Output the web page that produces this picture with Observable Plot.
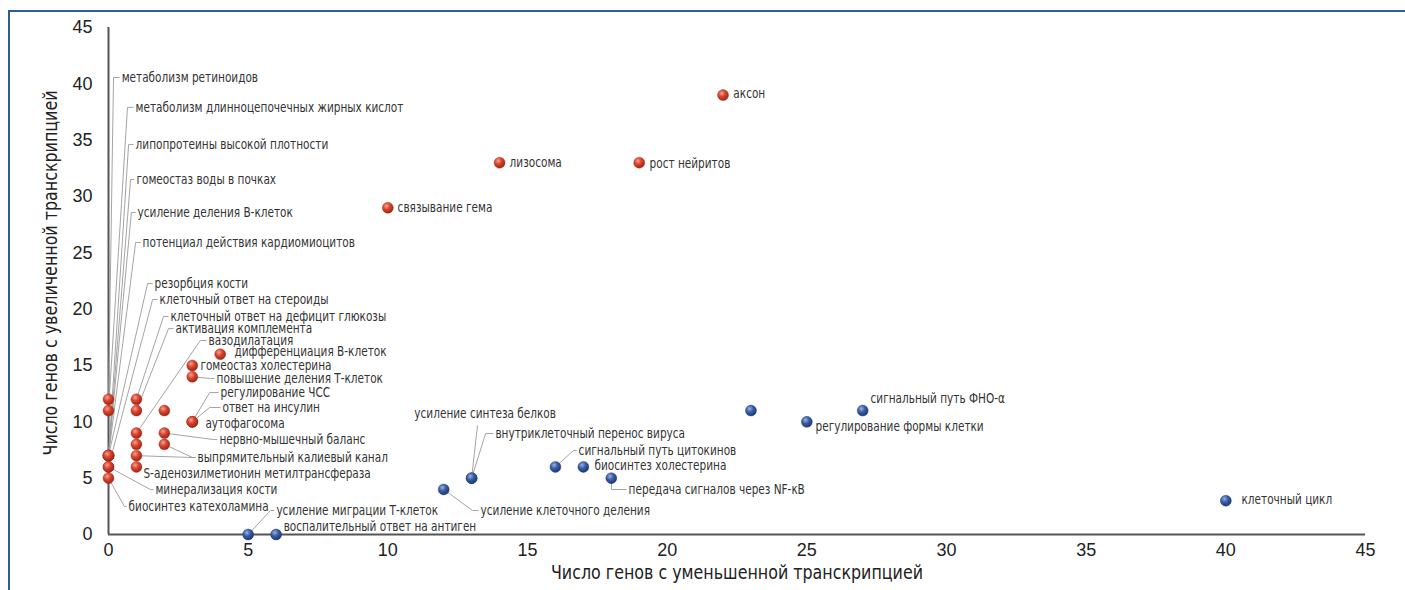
<!DOCTYPE html>
<html><head><meta charset="utf-8">
<script src="https://cdn.jsdelivr.net/npm/d3@7"></script>
<script src="https://cdn.jsdelivr.net/npm/@observablehq/plot@0.6"></script>
<style>
body{margin:0;background:#fff;}
#wrap{position:relative;width:1405px;height:590px;overflow:hidden;}
#frame{position:absolute;left:8px;top:10px;right:-10px;bottom:-10px;border-left:2px solid #2f5a9e;border-top:2px solid #2f5a9e;pointer-events:none;}
</style></head><body><div id="wrap"><div id="chart"></div><div id="frame"></div></div>
<script>
const xTitle = "Число генов с уменьшенной транскрипцией";
const yTitle = "Число генов с увеличенной транскрипцией";
const xTicks = [0,5,10,15,20,25,30,35,40,45];
const yTicks = [0,5,10,15,20,25,30,35,40,45];

// terms: name, down (x), up (y), group
const terms = [
 "метаболизм ретиноидов","метаболизм длинноцепочечных жирных кислот","липопротеины высокой плотности",
 "гомеостаз воды в почках","усиление деления В-клеток","потенциал действия кардиомиоцитов",
 "резорбция кости","клеточный ответ на стероиды","клеточный ответ на дефицит глюкозы",
 "активация комплемента","вазодилатация","дифференциация В-клеток","гомеостаз холестерина",
 "повышение деления Т-клеток","регулирование ЧСС","ответ на инсулин","аутофагосома",
 "нервно-мышечный баланс","выпрямительный калиевый канал","S-аденозилметионин метилтрансфераза",
 "минерализация кости","биосинтез катехоламина","","","",
 "связывание гема","лизосома","рост нейритов","аксон",
 "усиление миграции Т-клеток","воспалительный ответ на антиген","усиление клеточного деления",
 "усиление синтеза белков","внутриклеточный перенос вируса","сигнальный путь цитокинов",
 "биосинтез холестерина","передача сигналов через NF-κB","регулирование формы клетки",
 "сигнальный путь ФНО-α","клеточный цикл",""
];
const down = [0,0,0,0,0,0,0,0,1,1,1,4,3,3,3,3,3,2,2,1,0,0,2,1,1,10,14,19,22,5,6,12,13,13,16,17,18,25,27,40,23];
const up   = [12,11,7,7,7,7,7,6,12,11,9,16,15,14,10,10,10,9,8,6,6,5,11,8,7,29,33,33,39,0,0,4,5,5,6,6,5,10,11,3,11];
const group = ["up","up","up","up","up","up","up","up","up","up","up","up","up","up","up","up","up","up","up","up","up","up","up","up","up","up","up","up","up",
 "down","down","down","down","down","down","down","down","down","down","down","down"];
// label anchor positions (data units)
const labelX = [0.47,0.97,0.97,1.00,1.04,1.22,1.65,1.83,2.22,2.40,3.58,4.51,3.29,3.87,4.01,4.08,3.47,3.97,3.19,1.25,1.68,0.72,null,null,null,
 10.35,14.36,19.37,22.37,6.01,6.27,13.32,10.95,13.85,16.83,17.40,18.62,25.31,27.28,40.56,null];
const labelY = [40.56,37.91,34.62,31.51,28.58,25.92,22.28,20.86,19.35,18.28,17.22,16.24,15.00,13.85,12.60,11.27,9.85,8.43,6.83,5.41,3.99,2.49,null,null,null,
 29.02,33.02,32.93,39.14,2.13,0.71,2.13,10.74,8.96,7.46,6.12,3.99,9.59,12.07,3.11,null];

// leader lines: label index, start point, elbow, horizontal tick to label
const leaderLabel = [0,1,2,3,4,5,6,7,8,9,10,13,14,15,17,18,18,20,21,29,31,32,33,34,36];
const leaderFromX = [0,0,0,0,0,0,0,0,1,1,1,3,3,3,2,2,1,0,0,5,12,13,13,16,18];
const leaderFromY = [12,11,7,7,7,7,7,6,12,11,9,14,10,10,9,8,7,6,5,0,4,5,5,6,5];
const elbowX = [0.18,0.68,0.72,0.79,0.82,0.97,1.40,1.58,1.97,2.15,3.29,3.65,3.62,3.62,3.76,3.01,3.01,1.50,0.57,5.80,13.03,13.21,13.50,16.65,18.01];
const elbowY = [40.56,37.91,34.62,31.51,28.58,25.92,22.28,20.86,19.35,18.28,17.22,13.85,12.60,11.27,8.43,6.83,6.83,3.99,2.49,2.13,2.13,9.67,8.96,7.46,3.99];
const leaderTick = [1,1,1,1,1,1,1,1,1,1,1,1,1,1,1,1,1,1,1,1,1,0,1,1,1];

const points = terms.map((t,i)=>({name:t, down:down[i], up:up[i], group:group[i], lx:labelX[i], ly:labelY[i]}));
const leaders = leaderLabel.map((li,i)=>({fx:leaderFromX[i], fy:leaderFromY[i], ex:elbowX[i], ey:elbowY[i],
  tick:leaderTick[i]===1, lx:labelX[li], ly:labelY[li]}));

const narrowL = "'DejaVu Sans Condensed','DejaVu Sans',sans-serif";
const narrowT = "'DejaVu Sans Condensed', 'DejaVu Sans', sans-serif";
const svg = Plot.plot({
  width:1405, height:590, marginLeft:108, marginRight:40, marginTop:27, marginBottom:56,
  x:{domain:[0,45], ticks:xTicks, tickSize:0, tickPadding:9, label:null},
  y:{domain:[0,45], ticks:yTicks, tickSize:0, tickPadding:16, label:null},
  style:{fontFamily:"'Liberation Sans',Arial,sans-serif", fontSize:"18px", color:"#222", background:"transparent"},
  marks:[
    Plot.ruleX([0],{stroke:"#555",strokeWidth:2}),
    Plot.ruleY([0],{stroke:"#555",strokeWidth:2}),
    Plot.link(leaders,{x1:"fx",y1:"fy",x2:"ex",y2:"ey",stroke:"#9a9a9a",strokeWidth:0.9}),
    Plot.link(leaders.filter(d=>d.tick),{x1:"ex",y1:"ey",x2:d=>d.lx-0.07,y2:"ly",stroke:"#9a9a9a",strokeWidth:0.9}),
    Plot.dot(points.filter(d=>d.group==="up"),{x:"down",y:"up",r:5.5,fill:"url(#gRed)",stroke:"#a3281a",strokeWidth:0.4}),
    Plot.dot(points.filter(d=>d.group==="down"),{x:"down",y:"up",r:5.5,fill:"url(#gBlue)",stroke:"#1d3a78",strokeWidth:0.4}),
    Plot.text(points.filter(d=>d.name),{x:"lx",y:"ly",text:"name",textAnchor:"start",fontSize:13.6,fontFamily:narrowL,fill:"#333"}),
    Plot.text([xTitle],{frameAnchor:"bottom",textAnchor:"middle",dy:44,fontSize:19,fontFamily:narrowT,fill:"#222"}),
    Plot.text([yTitle],{frameAnchor:"left",textAnchor:"middle",rotate:-90,dx:-58,dy:-8,fontSize:19,fontFamily:narrowT,fill:"#222"})
  ]
});
d3.select(svg).insert("defs",":first-child").html(`
<radialGradient id="gRed" cx="0.38" cy="0.33" r="0.7"><stop offset="0" stop-color="#f7a48f"/><stop offset="0.45" stop-color="#d8452f"/><stop offset="1" stop-color="#9a2414"/></radialGradient>
<radialGradient id="gBlue" cx="0.38" cy="0.33" r="0.7"><stop offset="0" stop-color="#9bb2e0"/><stop offset="0.45" stop-color="#3a5ea5"/><stop offset="1" stop-color="#1b3572"/></radialGradient>`);
// horizontally condense label and title texts to mimic the narrow typeface
d3.select(svg).selectAll("g").filter(function(){return this.getAttribute("font-family")===narrowL;})
  .selectAll("text").attr("transform", function(){return (this.getAttribute("transform")||"") + " scale(0.86,1)";});
d3.select(svg).selectAll("g").filter(function(){return this.getAttribute("font-family")===narrowT;})
  .selectAll("text").attr("transform", function(){return (this.getAttribute("transform")||"") + " scale(0.93,1)";});
document.getElementById("chart").appendChild(svg);
</script></body></html>
